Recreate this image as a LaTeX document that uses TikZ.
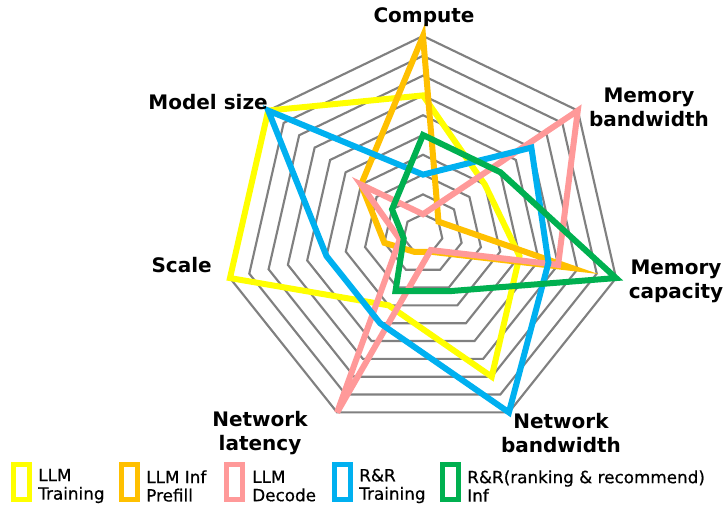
\documentclass[tikz,border=0pt]{standalone}
\usepackage{fontspec}
\setmainfont{DejaVu Sans}
\newfontfamily\legfont[FakeBold=0.6]{DejaVu Sans}
\definecolor{sYellow}{HTML}{FFFF00}
\definecolor{sOrange}{HTML}{FFC000}
\definecolor{sPink}{HTML}{FF9999}
\definecolor{sBlue}{HTML}{00B0F0}
\definecolor{sGreen}{HTML}{00B050}
\definecolor{gridgray}{HTML}{808080}
\begin{document}
\begin{tikzpicture}[x=0.75pt,y=-0.75pt,
  gridline/.style={draw=gridgray,line width=1.6pt},
  series/.style={draw=#1,line width=4.5pt,line join=miter},
  axislabel/.style={font=\fontsize{15}{18}\selectfont\bfseries,align=center,inner sep=0pt},
  legbox/.style={draw=#1,line width=3.75pt,fill=white,minimum width=12pt,minimum height=26pt,inner sep=0pt},
  legtext/.style={font=\legfont\fontsize{12.6}{13.8}\selectfont,align=left,anchor=west,inner sep=0pt}]
\useasboundingbox (0,0) rectangle (723,504);
\def\st{19.8}
\begin{scope}[shift={(423,234)}]
  % concentric heptagonal grid, ten levels
  \foreach \l in {1,...,10}{
    \draw[gridline] (-90:\l*\st)
      \foreach \k in {1,...,6}{ -- (-90+\k*360/7:\l*\st) } -- cycle;
  }
  % series: Compute, Mem BW, Mem cap, Net BW, Net latency, Scale, Model size
  \draw[series=sYellow] (-90:7*\st) -- (-38.571:4*\st) -- (12.857:5*\st) -- (64.286:8*\st)
     -- (115.714:4*\st) -- (167.143:10*\st) -- (218.571:10*\st) -- cycle;
  \draw[series=sOrange] (-90:10*\st) -- (-38.571:1*\st) -- (12.857:7.7*\st) -- (64.286:1*\st)
     -- (115.714:1*\st) -- (167.143:2*\st) -- (218.571:4*\st) -- cycle;
  \draw[series=sPink] (-90:1*\st) -- (-38.571:10*\st) -- (12.857:7*\st) -- (64.286:0.9*\st)
     -- (115.714:10*\st) -- (167.143:1.2*\st) -- (218.571:4*\st) -- cycle;
  \draw[series=sBlue] (-90:3*\st) -- (-38.571:7*\st) -- (12.857:6.5*\st) -- (64.286:10*\st)
     -- (115.714:5*\st) -- (167.143:5*\st) -- (218.571:10*\st) -- cycle;
  \draw[series=sGreen] (-90:5*\st) -- (-38.571:5*\st) -- (12.857:10*\st) -- (64.286:3.2*\st)
     -- (115.714:3.2*\st) -- (167.143:1*\st) -- (218.571:2*\st) -- cycle;
\end{scope}
% axis labels
\node[axislabel] (lcomp) at (424,17) {Compute};
\node[axislabel] (lmbw) at (649,107) {Memory\\bandwidth};
\node[axislabel] (lmcap) at (676,281) {Memory\\capacity};
\node[axislabel] (lnbw) at (561,433) {Network\\bandwidth};
\node[axislabel] (lnlat) at (260,433) {Network\\latency};
\node[axislabel,anchor=east] (lscale) at (212,265) {Scale};
\node[axislabel,anchor=east] (lmsize) at (268,102) {Model size};
% legend
\node[legbox=sYellow] (k1) at (21.5,482) {};
\node[legtext] (t1) at (38,486) {LLM\\Training};
\node[legbox=sOrange] (k2) at (129,482) {};
\node[legtext] (t2) at (146,486) {LLM Inf\\Prefill};
\node[legbox=sPink] (k3) at (234.5,482) {};
\node[legtext] (t3) at (252,486) {LLM\\Decode};
\node[legbox=sBlue] (k4) at (342.5,482) {};
\node[legtext] (t4) at (359,486) {R\&R\\Training};
\node[legbox=sGreen] (k5) at (450,482) {};
\node[legtext] (t5) at (467,486) {R\&R(ranking \& recommend)\\Inf};
\end{tikzpicture}
\end{document}
